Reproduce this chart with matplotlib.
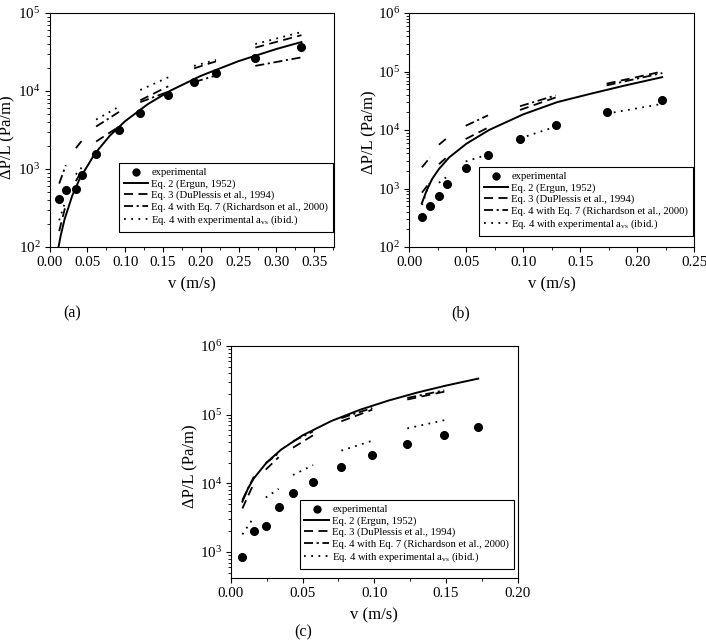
import numpy as np
import matplotlib
matplotlib.use('Agg')
import matplotlib.pyplot as plt
from matplotlib.ticker import LogLocator, MultipleLocator, NullFormatter, FormatStrFormatter
from matplotlib.lines import Line2D

plt.rcParams['font.family'] = ['Liberation Serif', 'DejaVu Serif']
plt.rcParams['mathtext.fontset'] = 'stix'

# ---- panel (a) ----
a_v_exp = [0.0128, 0.0216, 0.0348, 0.0427, 0.0616, 0.0919, 0.120, 0.157, 0.191, 0.220, 0.272, 0.333]
a_dp_exp = [410, 545, 560, 850, 1580, 3130, 5300, 8900, 13000, 16900, 26500, 37000]
a_v_ergun = [0.0119, 0.015, 0.02, 0.03, 0.04, 0.06, 0.08, 0.10, 0.13, 0.16, 0.20, 0.25, 0.30, 0.333]
a_dp_ergun = [100, 143, 228, 453, 753, 1575, 2690, 4110, 6790, 10130, 15640, 24180, 34580, 42460]
a_eq3 = [160, 350, 700, 950, 2250, 3500, 7600, 11500, 19500, 24000, 36000, 52000]
a_eq4_7 = [650, 1120, 1850, 2300, 3500, 5400, 7200, 9800, 13000, 15800, 21000, 27000]
a_eq4_exp = [220, 400, 850, 1050, 4300, 6300, 10300, 15000, 21000, 25000, 40000, 57000]

# ---- panel (b) ----
b_v_exp = [0.0111, 0.0182, 0.026, 0.0331, 0.0495, 0.0691, 0.0972, 0.1285, 0.1733, 0.2222]
b_dp_exp = [330, 505, 740, 1190, 2210, 3800, 7000, 12000, 20300, 33000]
b_v_ergun = [0.011, 0.015, 0.02, 0.026, 0.035, 0.05, 0.07, 0.10, 0.13, 0.16, 0.19, 0.222]
b_dp_ergun = [560, 900, 1450, 2150, 3400, 5800, 10000, 18500, 30000, 42000, 58000, 80000]
b_eq3 = [850, 1280, 2600, 3450, 7000, 11000, 22000, 36000, 62000, 100000]
b_eq4_7 = [2300, 3400, 5600, 7300, 11800, 17800, 25500, 39000, 58000, 94000]
b_eq4_exp = [520, 1300, 1250, 1600, 2900, 3800, 7200, 11400, 19000, 28000]

# ---- panel (c) ----
c_v_exp = [0.008, 0.016, 0.0243, 0.0333, 0.0433, 0.0573, 0.077, 0.0986, 0.123, 0.1488, 0.1725]
c_dp_exp = [846, 2020, 2390, 4470, 7220, 10560, 17100, 25800, 37700, 51000, 65300]
c_v_ergun = [0.008, 0.012, 0.016, 0.025, 0.035, 0.05, 0.07, 0.09, 0.11, 0.13, 0.15, 0.1725]
c_dp_ergun = [5400, 8470, 11800, 20150, 30900, 49900, 80700, 117600, 160600, 209900, 265000, 335000]
c_eq3 = [4300, 10000, 15800, 24000, 33000, 50000, 80000, 118000, 166000, 216000, np.nan]
c_eq4_7 = [5700, 12500, 19500, 27500, 41000, 57000, 89000, 125000, 175000, 226000, np.nan]
c_eq4_exp = [1800, 3200, 6200, 8300, 13200, 18400, 29900, 41700, 63000, 83000, np.nan]

labels = ['experimental', 'Eq. 2 (Ergun, 1952)', 'Eq. 3 (DuPlessis et al., 1994)',
          'Eq. 4 with Eq. 7 (Richardson et al., 2000)',
          r'Eq. 4 with experimental a$_{\mathdefault{vs}}$ (ibid.)']

DASH = (0, (5, 3))
DASHDOT = (0, (5, 2, 1.2, 2))
DOT = (0, (1, 3))


def pairs(x, y):
    # model predictions are drawn as short segments between consecutive point pairs
    xs, ys = [], []
    for i in range(0, len(x) - 1, 2):
        xs += [x[i], x[i + 1], np.nan]
        ys += [y[i], y[i + 1], np.nan]
    return xs, ys


def panel(ax, v, dp, ve, dpe, eq3, eq47, eq4e, xlim, ylim, leg_anchor, ylab_x, ylab_y):
    ax.plot(ve, dpe, color='black', lw=1.4)
    ax.plot(*pairs(v, eq3), color='black', lw=1.3, ls=DASH)
    ax.plot(*pairs(v, eq47), color='black', lw=1.3, ls=DASHDOT)
    ax.plot(*pairs(v, eq4e), color='black', lw=1.3, ls=DOT)
    ax.plot(v, dp, 'o', color='black', ms=5.5)
    ax.set_yscale('log')
    ax.set_xlim(*xlim)
    ax.set_ylim(*ylim)
    ax.xaxis.set_major_locator(MultipleLocator(0.05))
    ax.xaxis.set_minor_locator(MultipleLocator(0.025))
    ax.xaxis.set_major_formatter(FormatStrFormatter('%.2f'))
    ax.yaxis.set_major_locator(LogLocator(base=10))
    ax.yaxis.set_minor_locator(LogLocator(base=10, subs=np.arange(2, 10)))
    ax.yaxis.set_minor_formatter(NullFormatter())
    ax.tick_params(which='major', direction='out', length=3.5, width=0.8, labelsize=10.8, pad=3)
    ax.tick_params(which='minor', direction='out', length=2, width=0.6)
    for s in ax.spines.values():
        s.set_linewidth(0.8)
    ax.set_xlabel('v (m/s)', fontsize=12)
    ax.set_ylabel('ΔP/L (Pa/m)', fontsize=12)
    ax.xaxis.set_label_coords(0.5, -0.125)
    ax.yaxis.set_label_coords(ylab_x, ylab_y)

    handles = [Line2D([], [], ls='none', marker='o', color='black', ms=5),
               Line2D([], [], color='black', lw=1.4),
               Line2D([], [], color='black', lw=1.3, ls=DASH),
               Line2D([], [], color='black', lw=1.3, ls=DASHDOT),
               Line2D([], [], color='black', lw=1.3, ls=DOT)]
    leg = ax.legend(handles, labels, loc='upper right', bbox_to_anchor=leg_anchor,
                    borderaxespad=0, fancybox=False, edgecolor='black', framealpha=1,
                    fontsize=7.7, handlelength=2.3, handletextpad=0.3, labelspacing=0.17,
                    borderpad=0.45, numpoints=1)
    leg.get_frame().set_linewidth(0.8)


fig = plt.figure(figsize=(7.06, 6.42), dpi=100)
W, H = 706, 642

ax_a = fig.add_axes([49.5 / W, 1 - 247 / H, 284.5 / W, 234 / H])
panel(ax_a, a_v_exp, a_dp_exp, a_v_ergun, a_dp_ergun, a_eq3, a_eq4_7, a_eq4_exp,
      (0, 0.376), (1e2, 1e5), (0.9965, 0.359), -0.12, 0.47)

ax_b = fig.add_axes([409.3 / W, 1 - 247 / H, 284.7 / W, 234 / H])
panel(ax_b, b_v_exp, b_dp_exp, b_v_ergun, b_dp_ergun, b_eq3, b_eq4_7, b_eq4_exp,
      (0, 0.25), (1e2, 1e6), (0.9965, 0.342), -0.113, 0.49)

ax_c = fig.add_axes([230.9 / W, 1 - 578 / H, 286.8 / W, 232 / H])
panel(ax_c, c_v_exp, c_dp_exp, c_v_ergun, c_dp_ergun, c_eq3, c_eq4_7, c_eq4_exp,
      (0, 0.20), (10 ** 2.62, 1e6), (0.987, 0.336), -0.115, 0.48)

fig.text(72 / W, 1 - 313 / H, '(a)', ha='center', va='center', fontsize=11.5)
fig.text(461 / W, 1 - 313 / H, '(b)', ha='center', va='center', fontsize=11.5)
fig.text(303 / W, 1 - 640 / H, '(c)', ha='center', va='bottom', fontsize=11.5)

fig.savefig('out.png', dpi=100)
